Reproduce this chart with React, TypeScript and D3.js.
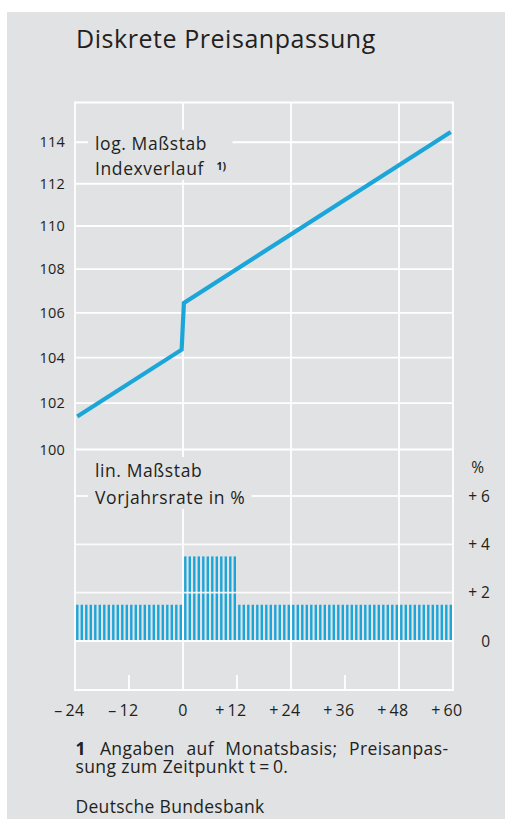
import React, { useEffect, useRef } from 'react';
import * as d3 from 'd3';

const W = 515;
const H = 819;

const titleText = 'Diskrete Preisanpassung';
const xTicks = [-24, -12, 0, 12, 24, 36, 48, 60];
const xTickSigns = ['\u2013\u2009', '\u2013\u2009', '', '+\u2009', '+\u2009', '+\u2009', '+\u2009', '+\u2009'];
const xTickNums = ['24', '12', '0', '12', '24', '36', '48', '60'];
const xGridMonths = [0, 24, 48];
const xShortTicks = [-12, 12, 36];
const indexTicks = [100, 102, 104, 106, 108, 110, 112, 114];
const rateTicks = [0, 2, 4, 6];
const rateTickLabels = ['0', '+ 2', '+ 4', '+ 6'];

// Index path (log scale), months relative to price adjustment at t = 0
const lineMonths = [-23.5, -0.3, 0.2, 59.5];
const lineIndex = [101.42, 104.35, 106.45, 114.5];

// Annual rate in % (monthly bars)
const barMonths = [
  -24, -23, -22, -21, -20, -19, -18, -17, -16, -15, -14, -13,
  -12, -11, -10, -9, -8, -7, -6, -5, -4, -3, -2, -1,
  0, 1, 2, 3, 4, 5, 6, 7, 8, 9, 10, 11,
  12, 13, 14, 15, 16, 17, 18, 19, 20, 21, 22, 23,
  24, 25, 26, 27, 28, 29, 30, 31, 32, 33, 34, 35,
  36, 37, 38, 39, 40, 41, 42, 43, 44, 45, 46, 47,
  48, 49, 50, 51, 52, 53, 54, 55, 56, 57, 58, 59,
];
const barRates = [
  1.5, 1.5, 1.5, 1.5, 1.5, 1.5, 1.5, 1.5, 1.5, 1.5, 1.5, 1.5,
  1.5, 1.5, 1.5, 1.5, 1.5, 1.5, 1.5, 1.5, 1.5, 1.5, 1.5, 1.5,
  3.5, 3.5, 3.5, 3.5, 3.5, 3.5, 3.5, 3.5, 3.5, 3.5, 3.5, 3.5,
  1.5, 1.5, 1.5, 1.5, 1.5, 1.5, 1.5, 1.5, 1.5, 1.5, 1.5, 1.5,
  1.5, 1.5, 1.5, 1.5, 1.5, 1.5, 1.5, 1.5, 1.5, 1.5, 1.5, 1.5,
  1.5, 1.5, 1.5, 1.5, 1.5, 1.5, 1.5, 1.5, 1.5, 1.5, 1.5, 1.5,
  1.5, 1.5, 1.5, 1.5, 1.5, 1.5, 1.5, 1.5, 1.5, 1.5, 1.5, 1.5,
];

const topLabel = ['log. Maßstab', 'Indexverlauf'];
const bottomLabel = ['lin. Maßstab', 'Vorjahrsrate in %'];
const footLine1Rest = 'Angaben auf Monatsbasis; Preisanpas-';
const footLine2 = 'sung zum Zeitpunkt t\u2009=\u20090.';
const sourceText = 'Deutsche Bundesbank';

const BG = '#e1e2e4';
const BLUE = '#1ba6da';
const TXT = '#231f20';
const FONT = '"Open Sans", "Noto Sans", sans-serif';

export default function App() {
  const ref = useRef<SVGSVGElement | null>(null);

  useEffect(() => {
    const svg = d3.select(ref.current);
    svg.selectAll('*').remove();

    const left = 75, right = 453, top = 102.5, bottom = 690;
    const x = d3.scaleLinear().domain([-24, 60]).range([left, right]);
    const yIdx = d3.scaleLog().domain([100, 115.95]).range([449.5, top]);
    const yRate = d3.scaleLinear().domain([0, 6]).range([641, 496]);

    svg.append('rect').attr('x', 7).attr('y', 12).attr('width', 498).attr('height', H - 12).attr('fill', BG);

    svg.append('text').attr('x', 76).attr('y', 48).attr('font-size', 25).attr('letter-spacing', 0.55)
      .attr('fill', TXT).attr('font-family', FONT).text(titleText);

    const g = svg.append('g');
    const gridW = 1.8;

    // bars
    g.selectAll('rect.bar').data(barMonths).enter().append('rect')
      .attr('x', (m) => x(m) + 1.1)
      .attr('width', 2.4)
      .attr('y', (m, i) => yRate(barRates[i]))
      .attr('height', (m, i) => yRate(0) - yRate(barRates[i]))
      .attr('fill', BLUE);

    // vertical grid lines
    g.selectAll('line.vg').data(xGridMonths).enter().append('line')
      .attr('x1', (d) => x(d)).attr('x2', (d) => x(d))
      .attr('y1', top).attr('y2', bottom)
      .attr('stroke', '#fff').attr('stroke-width', gridW);
    // frame
    [left, right].forEach((xx) => {
      g.append('line').attr('x1', xx).attr('x2', xx).attr('y1', top - 0.9).attr('y2', bottom + 0.9)
        .attr('stroke', '#fff').attr('stroke-width', gridW);
    });
    [top, bottom].forEach((yy) => {
      g.append('line').attr('x1', left).attr('x2', right).attr('y1', yy).attr('y2', yy)
        .attr('stroke', '#fff').attr('stroke-width', gridW);
    });
    // short ticks on bottom
    g.selectAll('line.st').data(xShortTicks).enter().append('line')
      .attr('x1', (d) => x(d)).attr('x2', (d) => x(d))
      .attr('y1', bottom - 15).attr('y2', bottom)
      .attr('stroke', '#fff').attr('stroke-width', gridW);

    // horizontal grid top panel
    g.selectAll('line.hi').data(indexTicks).enter().append('line')
      .attr('x1', left).attr('x2', right)
      .attr('y1', (d) => yIdx(d)).attr('y2', (d) => yIdx(d))
      .attr('stroke', '#fff').attr('stroke-width', gridW);
    // horizontal grid bottom panel
    g.selectAll('line.hr').data(rateTicks).enter().append('line')
      .attr('x1', left).attr('x2', right)
      .attr('y1', (d) => yRate(d)).attr('y2', (d) => yRate(d))
      .attr('stroke', '#fff').attr('stroke-width', gridW).attr('stroke-opacity', (d) => (d === 0 ? 1 : 0.85));

    // text label blocks with background
    const labelBlock = (lines: string[], x0: number, baselines: number[], sup: boolean) => {
      const lg = svg.append('g');
      const bgRect = lg.append('rect').attr('fill', BG);
      const texts = lines.map((t, i) => lg.append('text').attr('x', x0).attr('y', baselines[i])
        .attr('font-size', 17.5).attr('letter-spacing', 0.6).attr('font-family', FONT).attr('fill', TXT).text(t));
      let maxRight = 0;
      let minTop = Infinity;
      let maxBottom = -Infinity;
      texts.forEach((t) => {
        const b = (t.node() as SVGTextElement).getBBox();
        maxRight = Math.max(maxRight, b.x + b.width);
        minTop = Math.min(minTop, b.y);
        maxBottom = Math.max(maxBottom, b.y + b.height);
      });
      if (sup) {
        const last = texts[texts.length - 1].node() as SVGTextElement;
        const lb = last.getBBox();
        const s = lg.append('text').attr('x', lb.x + lb.width + 12).attr('y', baselines[baselines.length - 1] - 5)
          .attr('font-size', 10.5).attr('font-weight', 'bold').attr('font-family', FONT).attr('fill', TXT).text('1)');
        const sb = (s.node() as SVGTextElement).getBBox();
        maxRight = Math.max(maxRight, sb.x + sb.width);
      }
      bgRect.attr('x', x0 - 7).attr('y', minTop - 1).attr('width', maxRight - x0 + 13).attr('height', maxBottom - minTop + 1);
    };
    labelBlock(topLabel, 95, [150, 175], true);
    labelBlock(bottomLabel, 95, [477, 504], false);

    // index line
    const pts = lineMonths.map((m, i) => [x(m), yIdx(lineIndex[i])] as [number, number]);
    svg.append('path').attr('d', d3.line()(pts) as string).attr('fill', 'none')
      .attr('stroke', BLUE).attr('stroke-width', 4.2).attr('stroke-linejoin', 'miter');

    // left tick labels
    svg.selectAll('text.yl').data(indexTicks).enter().append('text')
      .attr('x', 65).attr('y', (d) => yIdx(d)).attr('dy', '0.36em')
      .attr('text-anchor', 'end').attr('font-size', 14.5).attr('letter-spacing', 0.2).attr('font-family', FONT).attr('fill', TXT)
      .text((d) => String(d));

    // right tick labels
    svg.selectAll('text.yr').data(rateTicks).enter().append('text')
      .attr('x', 490).attr('y', (d) => yRate(d)).attr('dy', '0.36em')
      .attr('text-anchor', 'end').attr('font-size', 15.5).attr('font-family', FONT).attr('fill', TXT)
      .text((d, i) => rateTickLabels[i]);
    svg.append('text').attr('x', 484).attr('y', 467).attr('dy', '0.36em').attr('text-anchor', 'end')
      .attr('font-size', 15.5).attr('font-family', FONT).attr('fill', TXT).text('%');

    // bottom tick labels: digits centred on the tick, sign hanging to the left
    const xlg = svg.append('g').attr('font-size', 16).attr('letter-spacing', 0.3).attr('font-family', FONT).attr('fill', TXT);
    xTicks.forEach((d, i) => {
      const t = xlg.append('text').attr('x', 0).attr('y', 716).text(xTickNums[i]);
      const w = (t.node() as SVGTextElement).getComputedTextLength();
      t.text(xTickSigns[i] + xTickNums[i]).attr('text-anchor', 'end').attr('x', x(d) + w / 2);
    });

    // footnote line 1 (justified with word-spacing)
    const fy1 = 755, fy2 = 773;
    const fg = svg.append('g').attr('font-family', FONT).attr('font-size', 17.5).attr('letter-spacing', 0.4).attr('fill', TXT);
    const one = fg.append('text').attr('x', 75.5).attr('y', fy1).attr('font-weight', 'bold').text('1');
    const oneW = (one.node() as SVGTextElement).getBBox().width;
    const restX = 75.5 + oneW + 14;
    const l1 = fg.append('text').attr('x', restX).attr('y', fy1).text(footLine1Rest);
    const natW = (l1.node() as SVGTextElement).getBBox().width;
    const nSpaces = footLine1Rest.split(' ').length - 1;
    const target = 448.5 - restX;
    l1.attr('word-spacing', Math.max(0, (target - natW) / nSpaces));
    fg.append('text').attr('x', 75.5).attr('y', fy2).text(footLine2);

    svg.append('text').attr('x', 75.5).attr('y', 813).attr('font-size', 17.5).attr('letter-spacing', 0.3)
      .attr('font-family', FONT).attr('fill', TXT).text(sourceText);
  }, []);

  return (
    <svg ref={ref} width={W} height={H} style={{ position: 'absolute', left: 0, top: 0, display: 'block' }} />
  );
}
